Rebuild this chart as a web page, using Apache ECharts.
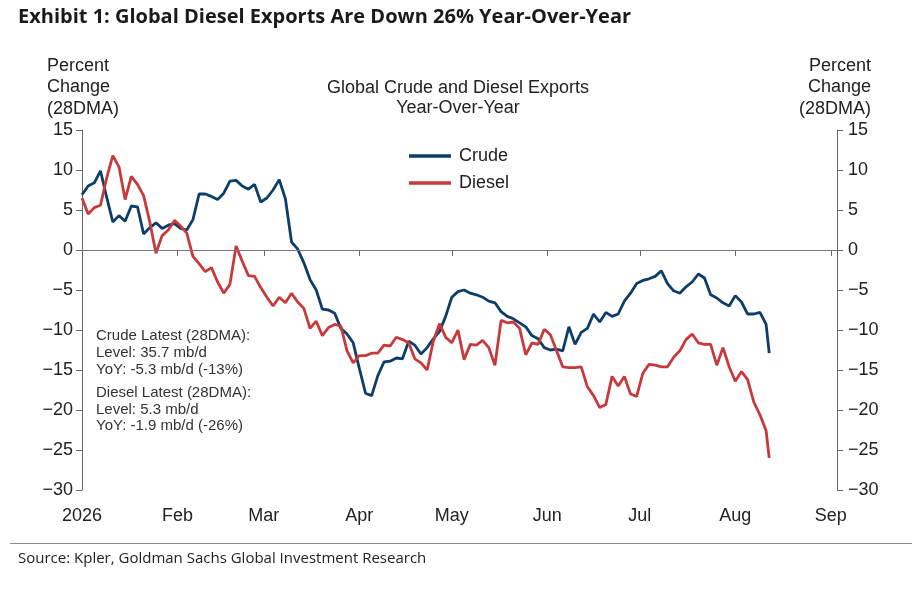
<!DOCTYPE html>
<html lang="en">
<head>
    <meta charset="UTF-8">
    <title>Global Crude and Diesel Exports</title>
    <script src="https://cdn.jsdelivr.net/npm/echarts@6/dist/echarts.min.js"></script>
</head>
<style>
    html, body {
        margin: 0;
        padding: 0;
        background: #fff;
    }
</style>
<body>
<div id="main" style="width: 923px;height:595px"></div>
<script type="text/javascript">
    // every other day, 28DMA yoy % change
    var dates = [
        '2026-01-01', '2026-01-03', '2026-01-05', '2026-01-07', '2026-01-09', '2026-01-11', '2026-01-13', '2026-01-15',
        '2026-01-17', '2026-01-19', '2026-01-21', '2026-01-23', '2026-01-25', '2026-01-27', '2026-01-29', '2026-01-31',
        '2026-02-02', '2026-02-04', '2026-02-06', '2026-02-08', '2026-02-10', '2026-02-12', '2026-02-14', '2026-02-16',
        '2026-02-18', '2026-02-20', '2026-02-22', '2026-02-24', '2026-02-26', '2026-02-28',
        '2026-03-02', '2026-03-04', '2026-03-06', '2026-03-08', '2026-03-10', '2026-03-12', '2026-03-14', '2026-03-16',
        '2026-03-18', '2026-03-20', '2026-03-22', '2026-03-24', '2026-03-26', '2026-03-28', '2026-03-30',
        '2026-04-01', '2026-04-03', '2026-04-05', '2026-04-07', '2026-04-09', '2026-04-11', '2026-04-13', '2026-04-15',
        '2026-04-17', '2026-04-19', '2026-04-21', '2026-04-23', '2026-04-25', '2026-04-27', '2026-04-29',
        '2026-05-01', '2026-05-03', '2026-05-05', '2026-05-07', '2026-05-09', '2026-05-11', '2026-05-13', '2026-05-15',
        '2026-05-17', '2026-05-19', '2026-05-21', '2026-05-23', '2026-05-25', '2026-05-27', '2026-05-29', '2026-05-31',
        '2026-06-02', '2026-06-04', '2026-06-06', '2026-06-08', '2026-06-10', '2026-06-12', '2026-06-14', '2026-06-16',
        '2026-06-18', '2026-06-20', '2026-06-22', '2026-06-24', '2026-06-26', '2026-06-28', '2026-06-30',
        '2026-07-02', '2026-07-04', '2026-07-06', '2026-07-08', '2026-07-10', '2026-07-12', '2026-07-14', '2026-07-16',
        '2026-07-18', '2026-07-20', '2026-07-22', '2026-07-24', '2026-07-26', '2026-07-28', '2026-07-30',
        '2026-08-01', '2026-08-03', '2026-08-05', '2026-08-07', '2026-08-09', '2026-08-11', '2026-08-12'
    ];

    var crude = [
        6.9, 8.0, 8.4, 9.9, 6.6, 3.5, 4.3, 3.6, 5.5, 5.4, 2.0, 2.8, 3.4, 2.7, 3.1, 3.3,
        2.7, 2.5, 3.8, 7.0, 7.0, 6.7, 6.3, 7.1, 8.6, 8.7, 8.0, 7.6, 8.2, 6.0,
        6.5, 7.5, 8.8, 6.4, 1.0, 0.1, -1.6, -3.7, -5.0, -7.4, -7.5, -7.9, -9.8, -10.5, -11.6,
        -14.8, -17.9, -18.2, -15.7, -14.0, -13.9, -13.5, -13.6, -11.4, -11.9, -13.0, -12.2, -11.1, -10.2, -8.3,
        -5.9, -5.2, -5.0, -5.4, -5.6, -5.9, -6.4, -6.6, -7.7, -8.3, -8.6, -9.1, -9.6, -10.7, -11.1, -12.2,
        -12.5, -12.4, -12.6, -9.6, -11.8, -10.3, -9.8, -8.0, -9.0, -7.8, -8.3, -8.0, -6.4, -5.4, -4.2,
        -3.8, -3.6, -3.3, -2.6, -4.2, -5.1, -5.4, -4.6, -4.0, -3.0, -3.5, -5.6, -6.0, -6.6, -7.0,
        -5.7, -6.5, -8.0, -8.0, -7.8, -9.3, -12.9
    ];

    var diesel = [
        6.5, 4.5, 5.3, 5.6, 9.0, 11.8, 10.4, 6.3, 9.2, 8.2, 6.8, 3.5, -0.4, 1.8, 2.5, 3.7,
        3.0, 2.1, -0.8, -1.7, -2.7, -2.2, -4.0, -5.4, -4.3, 0.5, -1.4, -3.2, -3.3, -4.7,
        -5.9, -7.0, -5.9, -6.6, -5.4, -6.5, -7.3, -9.8, -8.9, -10.7, -9.7, -9.3, -9.5, -12.6, -14.1,
        -13.2, -13.2, -12.9, -12.9, -11.9, -12.0, -10.9, -11.2, -11.6, -13.6, -14.1, -15.0, -11.4, -9.2, -10.9,
        -11.6, -10.0, -13.7, -11.8, -11.9, -11.3, -12.2, -14.4, -8.8, -9.1, -9.0, -9.8, -13.1, -11.6, -11.8, -9.9,
        -10.6, -12.6, -14.6, -14.7, -14.7, -14.6, -17.1, -18.2, -19.7, -19.3, -15.8, -17.0, -15.8, -18.0, -18.3,
        -15.4, -14.3, -14.4, -14.6, -14.6, -13.4, -12.6, -11.2, -10.5, -11.6, -11.8, -11.8, -14.4, -12.2, -14.6,
        -16.4, -15.2, -16.2, -19.0, -20.6, -22.6, -26.0
    ];

    var monthLabels = ['2026', 'Feb', 'Mar', 'Apr', 'May', 'Jun', 'Jul', 'Aug', 'Sep', 'Oct', 'Nov', 'Dec'];
    var notes = [
        'Crude Latest (28DMA):', 'Level: 35.7 mb/d', 'YoY: -5.3 mb/d (-13%)',
        'Diesel Latest (28DMA):', 'Level: 5.3 mb/d', 'YoY: -1.9 mb/d (-26%)'
    ];

    var axisFont = 'Liberation Sans, Arial, sans-serif';

    function pairs(vals) {
        return vals.map(function (v, i) {
            return [dates[i], v];
        });
    }

    function minus(v) {
        return String(v).replace('-', '\u2212');
    }

    var yAxisBase = {
        type: 'value',
        min: -30,
        max: 15,
        interval: 5,
        axisLine: {show: true, lineStyle: {color: '#666', width: 1}},
        axisTick: {show: true, length: 6, lineStyle: {color: '#666'}},
        axisLabel: {color: '#222', fontSize: 18, fontFamily: axisFont, formatter: minus},
        splitLine: {show: false}
    };

    var texts = [
        {type: 'text', x: 18, y: 7, style: {text: 'Exhibit 1: Global Diesel Exports Are Down 26% Year-Over-Year', font: 'bold 20px "Open Sans", sans-serif', fill: '#1a1a1a'}},
        {type: 'text', x: 47, y: 55, style: {text: 'Percent\nChange\n(28DMA)', font: '18px ' + axisFont, lineHeight: 21.5, fill: '#222'}},
        {type: 'text', x: 871, y: 55, style: {text: 'Percent\nChange\n(28DMA)', font: '18px ' + axisFont, lineHeight: 21.5, fill: '#222', align: 'right'}},
        {type: 'text', x: 458, y: 78, style: {text: 'Global Crude and Diesel Exports\nYear-Over-Year', font: '18px ' + axisFont, lineHeight: 20, fill: '#222', align: 'center'}},
        {type: 'text', x: 96, y: 328, style: {text: notes.slice(0, 3).join('\n'), font: '15px ' + axisFont, lineHeight: 16.6, fill: '#333'}},
        {type: 'text', x: 96, y: 385, style: {text: notes.slice(3).join('\n'), font: '15px ' + axisFont, lineHeight: 16.4, fill: '#333'}},
        {type: 'line', shape: {x1: 10, y1: 543.5, x2: 912, y2: 543.5}, style: {stroke: '#8a8a8a', lineWidth: 1}},
        {type: 'text', x: 18, y: 551, style: {text: 'Source: Kpler, Goldman Sachs Global Investment Research', font: '15px "Open Sans", sans-serif', fill: '#222'}}
    ];

    var myChart = echarts.init(document.getElementById('main'));
    var option = {
        animation: false,
        backgroundColor: '#fff',
        grid: {left: 82, right: 86, top: 130, bottom: 105, containLabel: false},
        legend: {
            left: 404,
            top: 142,
            orient: 'vertical',
            icon: 'rect',
            itemWidth: 42,
            itemHeight: 3.5,
            itemGap: 9,
            textStyle: {color: '#222', fontSize: 18, lineHeight: 18, fontFamily: axisFont, padding: [0, 0, 0, 3]},
            data: ['Crude', 'Diesel']
        },
        xAxis: {
            type: 'time',
            min: '2026-01-01',
            max: '2026-09-03',
            splitNumber: 5,
            axisLine: {lineStyle: {color: '#666', width: 1}},
            axisTick: {show: true, length: 6, lineStyle: {color: '#666'}},
            axisLabel: {
                color: '#222',
                fontSize: 18,
                fontFamily: axisFont,
                margin: 17,
                formatter: function (val) {
                    return monthLabels[new Date(val).getMonth()];
                }
            },
            splitLine: {show: false}
        },
        yAxis: [
            Object.assign({}, yAxisBase, {position: 'left', axisLabel: Object.assign({}, yAxisBase.axisLabel, {margin: 9})}),
            Object.assign({}, yAxisBase, {position: 'right', axisLabel: Object.assign({}, yAxisBase.axisLabel, {margin: 11})})
        ],
        series: [
            {
                name: 'Crude',
                type: 'line',
                data: pairs(crude),
                symbol: 'none',
                color: '#0d3d69',
                lineStyle: {width: 2.8, color: '#0d3d69'},
                markLine: {
                    silent: true,
                    symbol: ['none', 'none'],
                    label: {show: false},
                    lineStyle: {color: '#777', width: 1, type: 'solid'},
                    data: [{yAxis: 0}]
                }
            },
            {
                name: 'Diesel',
                type: 'line',
                data: pairs(diesel),
                symbol: 'none',
                color: '#c8393b',
                lineStyle: {width: 2.8, color: '#c8393b'}
            }
        ],
        graphic: texts
    };
    myChart.setOption(option);
</script>
</body>
</html>
